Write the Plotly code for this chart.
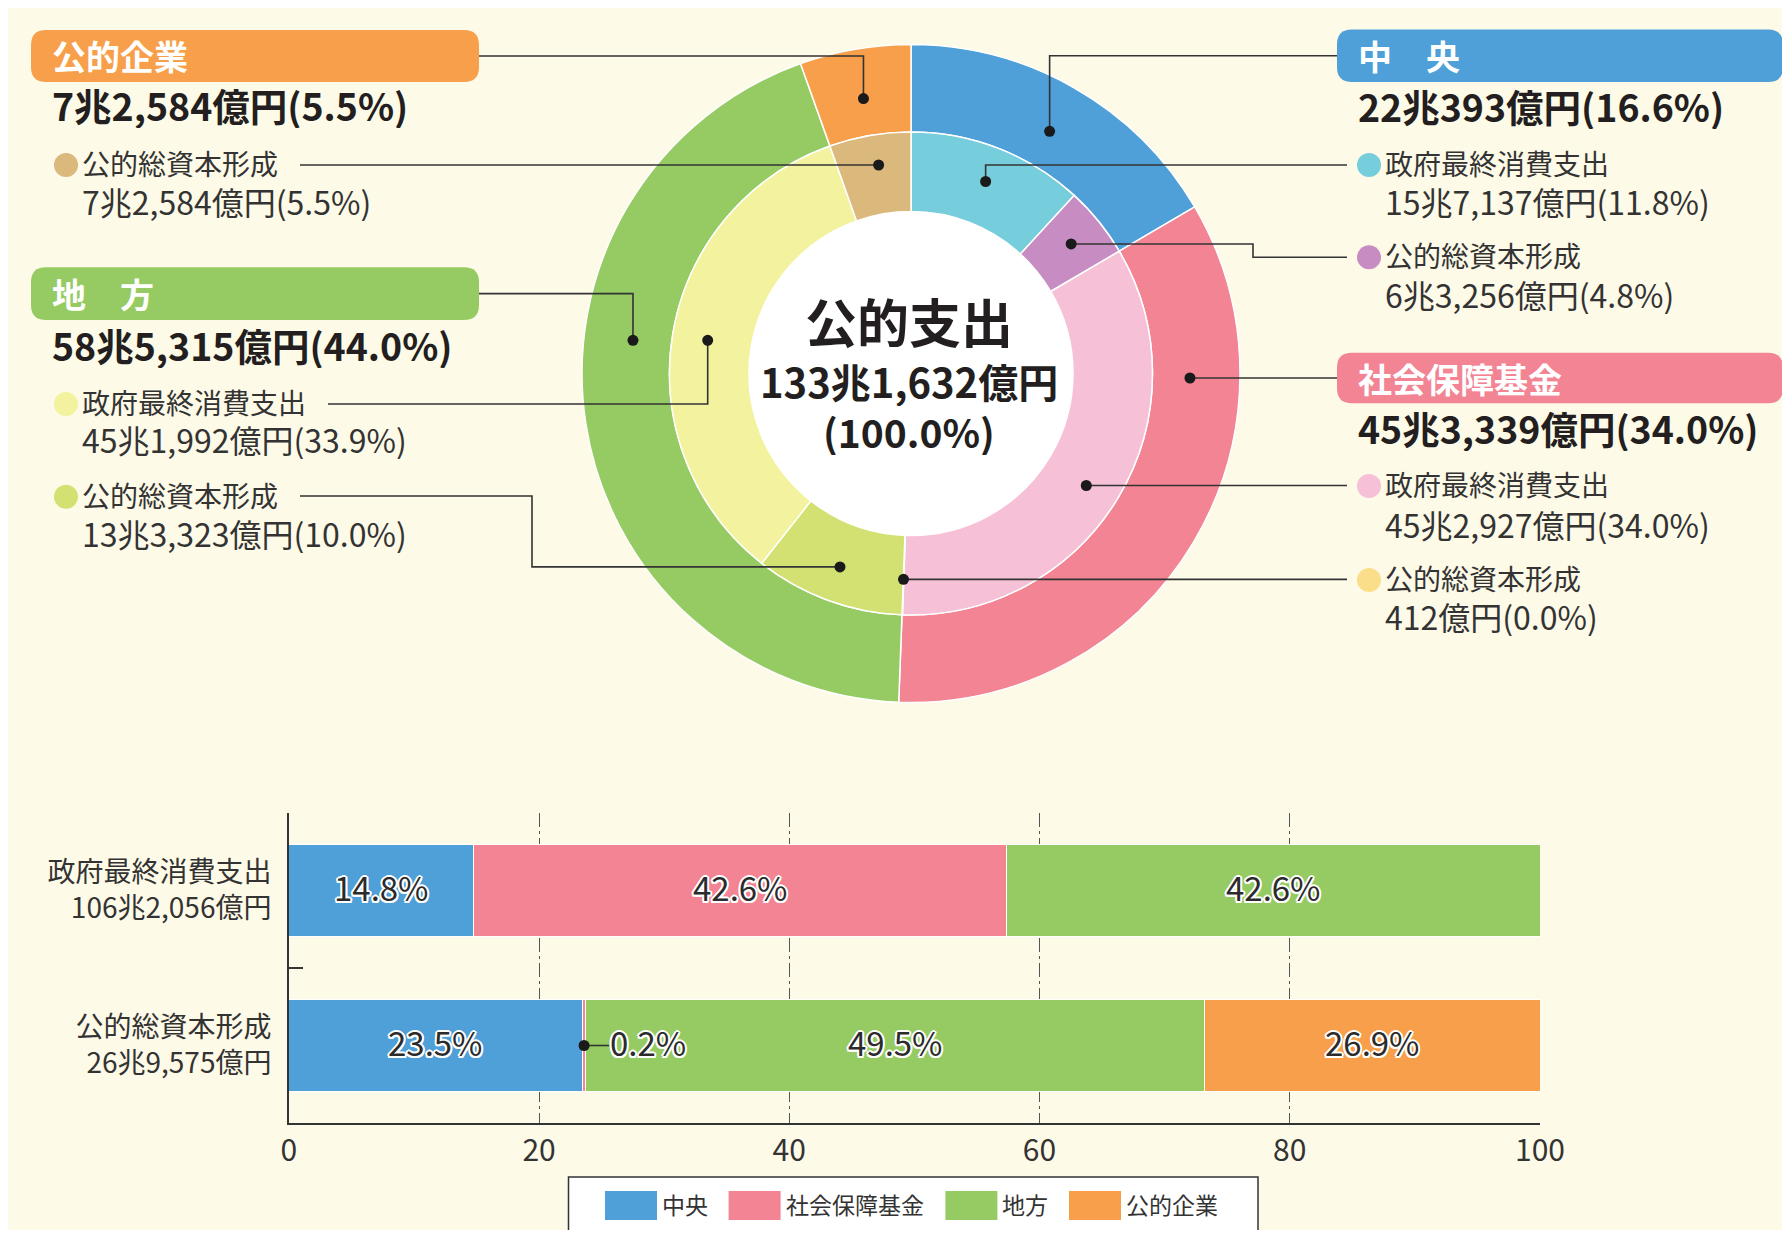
import math
import plotly.graph_objects as go

# The page body keeps the browser's default 8px margin, so the figure is
# sized to fit exactly inside the 1790x1238 window.
OFF = 8
W, H = 1790 - 2 * OFF, 1238 - 2 * OFF
FONT = "Noto Sans CJK JP"

# ---------------- data ----------------
sector_names = ["中央", "社会保障基金", "地方", "公的企業"]
sector_titles = ["中　央", "社会保障基金", "地　方", "公的企業"]
sector_values = [220393, 453339, 585315, 72584]          # 億円
sector_shares = [16.6, 34.0, 44.0, 5.5]                   # %
sector_colors = ["#4F9FD8", "#F28494", "#96CB63", "#F79F4A"]

item_names = ["政府最終消費支出", "公的総資本形成"]
inner_sector = [0, 0, 1, 1, 2, 2, 3]
inner_item = [0, 1, 0, 1, 1, 0, 1]
inner_values = [157137, 63256, 452927, 412, 133323, 451992, 72584]   # 億円
inner_shares = [11.8, 4.8, 34.0, 0.0, 10.0, 33.9, 5.5]               # %
inner_colors = ["#76CDDB", "#C78CC1", "#F6C1D7", "#FADE8A", "#D3E172", "#F3F29E", "#DBB87B"]

total_title = "公的支出"
total_value = 1331632
total_share = 100.0

bar_categories = ["政府最終消費支出", "公的総資本形成"]
bar_totals = [1062056, 269575]
bar_chuo = [14.8, 23.5]
bar_shakai = [42.6, 0.2]
bar_chiho = [42.6, 49.5]
bar_kigyo = [0.0, 26.9]
x_ticks = [0, 20, 40, 60, 80, 100]


def fmt_oku(v):
    cho, oku = divmod(v, 10000)
    s = f"{cho}兆" if cho else ""
    return s + f"{oku:,}億円"


# ---------------- geometry helpers (window pixel coordinates) ----------------
CX, CY = 911, 373.5
R_OUT, R_MID, R_IN = 329, 241.5, 162
R_DOT_OUT, R_DOT_IN = 279, 206
INK = "#231F20"
GREY = "#333333"
CREAM = "#FEFAE8"
TEXT_DY = -2.5   # CJK text boxes sit slightly low; nudge up


def X(px):
    return (px - OFF) / W


def Y(py):
    return 1 - (py - OFF) / H


def mid_angle(values, i):
    tot = sum(values)
    return (sum(values[:i]) + values[i] / 2) / tot * 360


def polar(a, r):
    t = math.radians(a)
    return (CX + r * math.sin(t), CY - r * math.cos(t))


def on_circle_at_y(y, r, side):
    dx = math.sqrt(max(r * r - (y - CY) ** 2, 0))
    return (CX + side * dx, y)


shapes = []
annotations = []

shapes.append(dict(type="circle", xref="paper", yref="paper", x0=X(CX - R_IN), x1=X(CX + R_IN),
                   y0=Y(CY + R_IN), y1=Y(CY - R_IN), fillcolor="white", line_width=0, layer="below"))


def rounded_box(x0, y0, x1, y1, r, color):
    pts = [("M", [(x0 + r, y0)]), ("L", [(x1 - r, y0)]), ("Q", [(x1, y0), (x1, y0 + r)]),
           ("L", [(x1, y1 - r)]), ("Q", [(x1, y1), (x1 - r, y1)]), ("L", [(x0 + r, y1)]),
           ("Q", [(x0, y1), (x0, y1 - r)]), ("L", [(x0, y0 + r)]), ("Q", [(x0, y0), (x0 + r, y0)])]
    path = " ".join(c + " ".join(f"{X(a):.5f},{Y(b):.5f}" for a, b in p) for c, p in pts) + " Z"
    shapes.append(dict(type="path", xref="paper", yref="paper", path=path,
                       fillcolor=color, line_width=0))


def polyline(points):
    path = "M" + " L".join(f"{X(a):.5f},{Y(b):.5f}" for a, b in points)
    shapes.append(dict(type="path", xref="paper", yref="paper", path=path,
                       line=dict(color=GREY, width=1.6)))


def dot(p, r=5.5, color="#1a1a1a"):
    x, y = p
    shapes.append(dict(type="circle", xref="paper", yref="paper", x0=X(x - r), x1=X(x + r),
                       y0=Y(y + r), y1=Y(y - r), fillcolor=color, line_width=0))


def text(x, y, s, size, color, bold=False, anchor="left", dy=TEXT_DY):
    annotations.append(dict(x=X(x), y=Y(y + dy), xref="paper", yref="paper",
                            text=f"<b>{s}</b>" if bold else s, showarrow=False,
                            xanchor=anchor, yanchor="middle", valign="middle",
                            height=round(size * 1.25), borderpad=0,
                            font=dict(family=FONT, size=size, color=color)))


# ---------------- label blocks ----------------
blocks = [
    # sector index, column, box y range, amount y, [(inner idx, label y, amount y)]
    (3, "L", (30, 82), 107.5, [(6, 165, 203.3)]),
    (2, "L", (267.3, 320), 346.7, [(5, 404, 441.7), (4, 496.7, 535)]),
    (0, "R", (29.5, 82), 108.3, [(0, 165, 203.3), (1, 257.3, 296.7)]),
    (1, "R", (352.7, 403.3), 430, [(2, 486, 526.7), (3, 580, 618.3)]),
]
COL = {"L": dict(box=(31, 479), title=51, sub_dot=66, sub_text=80.5),
       "R": dict(box=(1337, 1783), title=1357, sub_dot=1369, sub_text=1383.5)}

for si, col, (by0, by1), amt_y, subs in blocks:
    c = COL[col]
    rounded_box(c["box"][0], by0, c["box"][1], by1, 15, sector_colors[si])
    text(c["title"], (by0 + by1) / 2 - 0.5, sector_titles[si], 34, "white", bold=True, dy=0)
    text(c["title"], amt_y, f"{fmt_oku(sector_values[si])}({sector_shares[si]:.1f}%)", 37.5, INK, bold=True)
    for ii, ly, ay in subs:
        dot((c["sub_dot"], ly), r=12, color=inner_colors[ii])
        text(c["sub_text"], ly, item_names[inner_item[ii]], 28, GREY)
        text(c["sub_text"], ay, f"{fmt_oku(inner_values[ii])}({inner_shares[ii]:.1f}%)", 32, GREY)

# ---------------- leader lines ----------------
def left_start(item_idx):
    return 84 + len(item_names[item_idx]) * 28 + 20

# 公的企業 (outer)
box_mid = (30 + 82) / 2
p = polar(mid_angle(sector_values, 3), R_DOT_OUT)
polyline([(479, box_mid), (p[0], box_mid), p]); dot(p)
# 公的企業 公的総資本形成 (inner)
p = on_circle_at_y(165, 211, -1)
polyline([(left_start(1), 165), p]); dot(p)
# 地方 政府最終消費支出 (inner)
pale = polar(mid_angle(inner_values, 5), R_DOT_IN)
polyline([(left_start(0), 404), (pale[0], 404), pale]); dot(pale)
# 地方 (outer)
box_mid = (267.3 + 320) / 2
p = on_circle_at_y(pale[1], 280, -1)
polyline([(479, box_mid), (p[0], box_mid), p]); dot(p)
# 地方 公的総資本形成 (inner)
p = polar(mid_angle(inner_values, 4), R_DOT_IN)
polyline([(left_start(1), 496), (532, 496), (532, p[1]), p]); dot(p)

# 中央 (outer)
box_mid = (29.5 + 82) / 2
p = polar(mid_angle(sector_values, 0), R_DOT_OUT)
polyline([(1337, box_mid), (p[0], box_mid), p]); dot(p)
# 中央 政府最終消費支出
p = polar(mid_angle(inner_values, 0), R_DOT_IN)
polyline([(1347, 165), (p[0], 165), p]); dot(p)
# 中央 公的総資本形成
p = polar(mid_angle(inner_values, 1), R_DOT_IN)
polyline([(1347, 257.3), (1253, 257.3), (1253, p[1]), p]); dot(p)
# 社会保障基金 (outer)
box_mid = (352.7 + 403.3) / 2
p = on_circle_at_y(box_mid, R_DOT_OUT, 1)
polyline([(1337, box_mid), p]); dot(p)
# 社会保障基金 政府最終消費支出
p = on_circle_at_y(485.5, 208, 1)
polyline([(1347, 485.5), p]); dot(p)
# 社会保障基金 公的総資本形成
p = polar(mid_angle(inner_values, 3), R_DOT_IN)
polyline([(1347, p[1]), p]); dot(p)

# ---------------- centre text ----------------
text(CX - 2, 321, total_title, 52, INK, bold=True, anchor="center", dy=0)
text(CX - 2, 381, fmt_oku(total_value), 40, INK, bold=True, anchor="center", dy=0)
text(CX - 2, 430.5, f"({total_share:.1f}%)", 39, INK, bold=True, anchor="center", dy=0)

# ---------------- figure ----------------
fig = go.Figure()

fig.add_trace(go.Pie(
    values=sector_values, labels=sector_names, sort=False, direction="clockwise", rotation=0,
    hole=R_MID / R_OUT, textinfo="none", hoverinfo="skip", showlegend=False,
    marker=dict(colors=sector_colors, line=dict(color="white", width=1.5)),
    domain=dict(x=[X(CX - R_OUT), X(CX + R_OUT)], y=[Y(CY + R_OUT), Y(CY - R_OUT)]),
))
fig.add_trace(go.Pie(
    values=inner_values, labels=[f"{sector_names[s]} {item_names[i]}" for s, i in zip(inner_sector, inner_item)],
    sort=False, direction="clockwise", rotation=0,
    hole=R_IN / R_MID, textinfo="none", hoverinfo="skip", showlegend=False,
    marker=dict(colors=inner_colors, line=dict(color="white", width=1.5)),
    domain=dict(x=[X(CX - R_MID), X(CX + R_MID)], y=[Y(CY + R_MID), Y(CY - R_MID)]),
))

ylabels = [f"{c}<br>{fmt_oku(t)}" for c, t in zip(bar_categories, bar_totals)]
shadow = ", ".join(f"{dx}px {dy}px 0px #ffffff" for dx, dy in
                   [(-1.5, -1.5), (1.5, -1.5), (-1.5, 1.5), (1.5, 1.5), (0, 2), (2, 0), (0, -2), (-2, 0)])
BAR_FONT = dict(family=FONT, size=33, color="#2b2b2b", shadow=shadow)

series = [bar_chuo, bar_shakai, bar_chiho, bar_kigyo]
for name, vals, color in zip(sector_names, series, sector_colors):
    fig.add_trace(go.Bar(
        x=vals, y=ylabels, orientation="h", name=name,
        marker=dict(color=color, line=dict(color="white", width=1)),
        hoverinfo="skip", showlegend=False,
    ))

# segment labels placed at each segment's centre (data coordinates)
for ci in range(len(bar_categories)):
    start = 0.0
    for vals in series:
        v = vals[ci]
        if v >= 1:
            annotations.append(dict(x=start + v / 2, y=ci, xref="x", yref="y", text=f"{v:.1f}%",
                                    showarrow=False, xanchor="center", yanchor="middle", yshift=4,
                                    font=BAR_FONT))
        start += v

# 0.2% call-out
cx = bar_chuo[1] + bar_shakai[1] / 2
shapes.append(dict(type="line", xref="x", yref="y", x0=cx, x1=cx + 2.0, y0=1, y1=1,
                   line=dict(color=GREY, width=1.6)))
shapes.append(dict(type="circle", xref="x", yref="y", xsizemode="pixel", ysizemode="pixel",
                   xanchor=cx, yanchor=1, x0=-5.5, x1=5.5, y0=-5.5, y1=5.5,
                   fillcolor="#1a1a1a", line_width=0))
annotations.append(dict(x=cx + 1.9, y=1, xref="x", yref="y", text=f"{bar_shakai[1]:.1f}%",
                        showarrow=False, xanchor="left", yanchor="middle", yshift=4,
                        font=BAR_FONT))

# custom legend
shapes.append(dict(type="rect", xref="paper", yref="paper", x0=X(568.5), x1=X(1258),
                   y0=Y(1232), y1=Y(1177), fillcolor="white", line=dict(color=GREY, width=1.5)))
lx = 605
for name, color in zip(sector_names, sector_colors):
    shapes.append(dict(type="rect", xref="paper", yref="paper", x0=X(lx), x1=X(lx + 52),
                       y0=Y(1220), y1=Y(1191), fillcolor=color, line_width=0))
    text(lx + 56, 1205.5, name, 23, GREY)
    lx += 58 + len(name) * 23.3 + 19

fig.update_layout(
    width=W, height=H, autosize=False,
    margin=dict(l=0, r=0, t=0, b=0, pad=0, autoexpand=False),
    paper_bgcolor=CREAM, plot_bgcolor="rgba(0,0,0,0)",
    barmode="stack", bargap=0.405, showlegend=False,
    font=dict(family=FONT, color=GREY),
    shapes=shapes, annotations=annotations,
    xaxis=dict(domain=[X(288.8), X(1540)], range=[0, 100], tickvals=x_ticks, automargin=False,
               showgrid=True, gridcolor="#555555", gridwidth=1, griddash="14px,4px,3px,4px",
               showline=True, linecolor=GREY, linewidth=1.5, ticks="", zeroline=False,
               tickfont=dict(family=FONT, size=30, color=GREY), ticklabelstandoff=0,
               fixedrange=True),
    yaxis=dict(domain=[Y(1123), Y(813)], autorange="reversed", type="category", automargin=False,
               showline=True, linecolor=GREY, linewidth=1.5, showgrid=False,
               ticks="inside", tickson="boundaries", ticklen=14, tickwidth=1.5, tickcolor=GREY,
               tickfont=dict(family=FONT, size=28, color=GREY), ticklabelstandoff=10,
               fixedrange=True),
)

fig.write_html("out.html", config={"displayModeBar": False, "responsive": False})
